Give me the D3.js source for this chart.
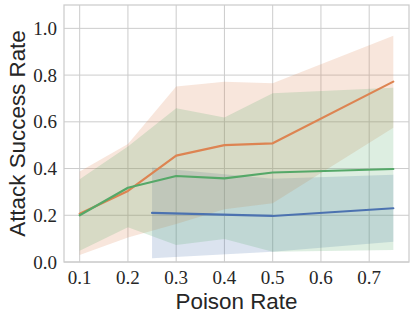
<!DOCTYPE html>
<html><head><meta charset="utf-8">
<script src="https://cdn.jsdelivr.net/npm/d3@7"></script>
<style>html,body{margin:0;padding:0;background:#fff;}svg{display:block;}</style>
</head><body>
<svg id="chart" width="415" height="321"></svg>
<script>
const xTicks = [0.1, 0.2, 0.3, 0.4, 0.5, 0.6, 0.7];
const yTicks = [0.0, 0.2, 0.4, 0.6, 0.8, 1.0];

const blueX = [0.25, 0.5, 0.75];
const blueMean = [0.210, 0.197, 0.230];
const blueLow = [0.016, 0.044, 0.087];
const blueHigh = [0.405, 0.356, 0.373];

const orangeX = [0.1, 0.2, 0.3, 0.4, 0.5, 0.75];
const orangeMean = [0.207, 0.304, 0.455, 0.500, 0.508, 0.772];
const orangeLow = [0.030, 0.105, 0.163, 0.226, 0.251, 0.575];
const orangeHigh = [0.387, 0.505, 0.751, 0.772, 0.765, 0.968];

const greenX = [0.1, 0.2, 0.3, 0.4, 0.5, 0.75];
const greenMean = [0.200, 0.318, 0.368, 0.358, 0.383, 0.398];
const greenLow = [0.048, 0.149, 0.073, 0.098, 0.044, 0.051];
const greenHigh = [0.354, 0.494, 0.658, 0.618, 0.722, 0.746];

const series = [
  {x: blueX, m: blueMean, lo: blueLow, hi: blueHigh, c: "#4C72B0"},
  {x: orangeX, m: orangeMean, lo: orangeLow, hi: orangeHigh, c: "#DD8452"},
  {x: greenX, m: greenMean, lo: greenLow, hi: greenHigh, c: "#55A868"}
];

const L = 64, R = 409, T = 5, B = 262;
const x = d3.scaleLinear().domain([0.0675, 0.7825]).range([L, R]);
const y = d3.scaleLinear().domain([0, 1.1]).range([B, T]);
const svg = d3.select("#chart");

// grid
svg.append("g").selectAll("line").data(xTicks).join("line")
  .attr("x1", d => x(d)).attr("x2", d => x(d)).attr("y1", T).attr("y2", B)
  .attr("stroke", "#cccccc").attr("stroke-width", 1);
svg.append("g").selectAll("line").data(yTicks).join("line")
  .attr("x1", L).attr("x2", R).attr("y1", d => y(d)).attr("y2", d => y(d))
  .attr("stroke", "#cccccc").attr("stroke-width", 1);

const area = d3.area().x(d => x(d.x)).y0(d => y(d.lo)).y1(d => y(d.hi));
const line = d3.line().x(d => x(d.x)).y(d => y(d.m));
const pts = s => s.x.map((v, i) => ({x: v, m: s.m[i], lo: s.lo[i], hi: s.hi[i]}));

series.forEach(s => {
  svg.append("path").datum(pts(s)).attr("d", area)
    .attr("fill", s.c).attr("fill-opacity", 0.2).attr("stroke", "none");
});
series.forEach(s => {
  svg.append("path").datum(pts(s)).attr("d", line)
    .attr("fill", "none").attr("stroke", s.c).attr("stroke-width", 2.2)
    .attr("stroke-linejoin", "round").attr("stroke-linecap", "round");
});

// spines
svg.append("rect").attr("x", L).attr("y", T).attr("width", R - L).attr("height", B - T)
  .attr("fill", "none").attr("stroke", "#cccccc").attr("stroke-width", 1.25);

// tick labels
svg.append("g").selectAll("text").data(xTicks).join("text")
  .attr("x", d => x(d)).attr("y", 284)
  .attr("text-anchor", "middle")
  .attr("font-family", "Liberation Serif, serif").attr("font-size", 19)
  .attr("fill", "#262626")
  .text(d => d.toFixed(1));
svg.append("g").selectAll("text").data(yTicks).join("text")
  .attr("x", 57).attr("y", d => y(d) + 6.5)
  .attr("text-anchor", "end")
  .attr("font-family", "Liberation Serif, serif").attr("font-size", 19)
  .attr("fill", "#262626")
  .text(d => d.toFixed(1));

// axis labels
svg.append("text").attr("x", (L + R) / 2).attr("y", 309)
  .attr("text-anchor", "middle")
  .attr("font-family", "Liberation Sans, sans-serif").attr("font-size", 22.4)
  .attr("fill", "#262626").text("Poison Rate");
svg.append("text")
  .attr("transform", `translate(25,${(T + B) / 2}) rotate(-90)`)
  .attr("text-anchor", "middle")
  .attr("font-family", "Liberation Sans, sans-serif").attr("font-size", 22.4)
  .attr("fill", "#262626").text("Attack Success Rate");
</script>
</body></html>
